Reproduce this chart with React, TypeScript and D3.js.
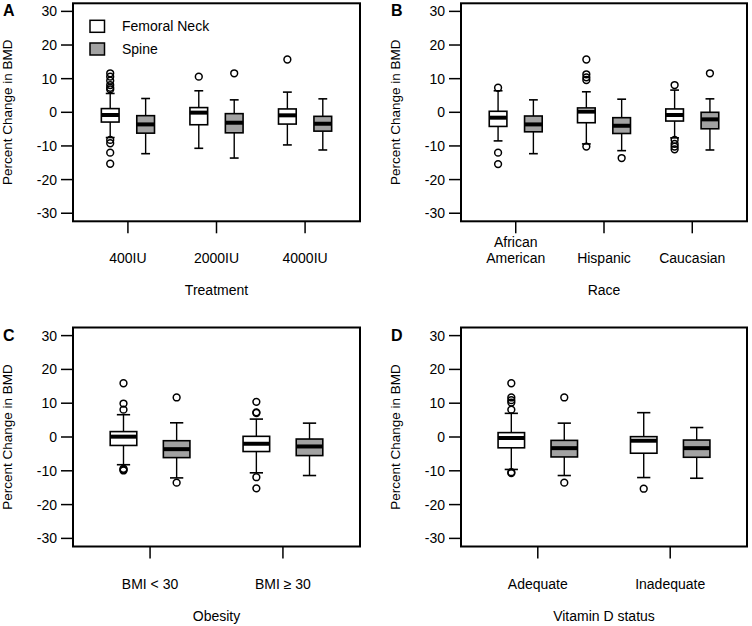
import React from "react";
import * as d3 from "d3";

type Stat = [number, number, number, number, number];

// ---- Data ----
const seriesNames = ["Femoral Neck", "Spine"];
const yTicks = [-30, -20, -10, 0, 10, 20, 30];

const treatmentCats = ["400IU", "2000IU", "4000IU"];
const treatmentFN: Stat[] = [
  [-7.5, -2.9, -0.8, 1.1, 5.6],
  [-10.7, -3.7, -0.1, 1.4, 6.4],
  [-9.7, -3.5, -0.9, 1.0, 6.0],
];
const treatmentFNOut: number[][] = [
  [11.6, 10.6, 9.4, 8.1, 7.3, 6.8, -8.2, -9.2, -12.0, -15.3],
  [10.6],
  [15.7],
];
const treatmentSp: Stat[] = [
  [-12.3, -6.2, -3.6, -1.0, 4.1],
  [-13.6, -6.1, -3.1, -0.4, 3.7],
  [-11.2, -5.6, -3.4, -1.2, 4.0],
];
const treatmentSpOut: number[][] = [[], [11.6], []];

const raceCats = ["African\nAmerican", "Hispanic", "Caucasian"];
const raceFN: Stat[] = [
  [-8.5, -4.2, -1.6, 0.3, 6.4],
  [-9.4, -3.1, 0.2, 1.3, 6.1],
  [-7.6, -2.6, -0.8, 1.0, 6.6],
];
const raceFNOut: number[][] = [
  [7.3, -12.0, -15.4],
  [15.7, 11.3, 10.4, 9.6, -10.2],
  [8.1, -8.2, -9.4, -10.2, -11.0],
];
const raceSp: Stat[] = [
  [-12.3, -5.8, -3.6, -1.1, 3.7],
  [-11.4, -6.3, -4.0, -1.6, 3.9],
  [-11.2, -4.9, -2.1, 0.0, 4.0],
];
const raceSpOut: number[][] = [[], [-13.6], [11.6]];

const obesityCats = ["BMI < 30", "BMI \u2265 30"];
const obesityFN: Stat[] = [
  [-8.2, -2.5, 0.1, 1.6, 6.6],
  [-10.6, -4.3, -2.0, 0.2, 5.3],
];
const obesityFNOut: number[][] = [
  [15.9, 9.9, 8.1, -9.4, -9.7, -9.9],
  [10.4, 7.3, 7.1, -11.9, -15.2],
];
const obesitySp: Stat[] = [
  [-12.1, -6.1, -3.6, -1.1, 4.2],
  [-11.4, -5.5, -2.8, -0.6, 4.1],
];
const obesitySpOut: number[][] = [[11.7, -13.5], []];

const vitdCats = ["Adequate", "Inadequate"];
const vitdFN: Stat[] = [
  [-9.6, -3.2, -0.3, 1.3, 7.0],
  [-12.0, -4.8, -1.1, 0.1, 7.2],
];
const vitdFNOut: number[][] = [
  [15.9, 11.7, 10.9, 10.2, 8.1, -10.4, -10.7],
  [-15.3],
];
const vitdSp: Stat[] = [
  [-11.4, -5.9, -3.3, -1.0, 4.1],
  [-12.2, -6.0, -3.3, -0.9, 2.8],
];
const vitdSpOut: number[][] = [[11.7, -13.5], []];

const FONT = "Liberation Sans, Arial, Helvetica, sans-serif";
const GREY = "#a2a2a2";

interface PanelProps {
  letter: string;
  left: number;
  right: number;
  top: number;
  bottom: number;
  cats: string[];
  fn: Stat[];
  fnOut: number[][];
  sp: Stat[];
  spOut: number[][];
  xTitle: string;
  legend?: boolean;
}

function BoxMark({ x, w, s, out, y, fill }: { x: number; w: number; s: Stat; out: number[]; y: d3.ScaleLinear<number, number>; fill: string }) {
  const [lo, q1, med, q3, hi] = s;
  const half = w / 2;
  const cap = w / 4;
  return (
    <g>
      <line x1={x} x2={x} y1={y(q3)} y2={y(hi)} stroke="#000" strokeWidth={1.4} />
      <line x1={x} x2={x} y1={y(q1)} y2={y(lo)} stroke="#000" strokeWidth={1.4} />
      <line x1={x - cap} x2={x + cap} y1={y(hi)} y2={y(hi)} stroke="#000" strokeWidth={1.6} />
      <line x1={x - cap} x2={x + cap} y1={y(lo)} y2={y(lo)} stroke="#000" strokeWidth={1.6} />
      <rect x={x - half} y={y(q3)} width={w} height={y(q1) - y(q3)} fill={fill} stroke="#000" strokeWidth={1.6} />
      <line x1={x - half} x2={x + half} y1={y(med)} y2={y(med)} stroke="#000" strokeWidth={4} />
      {out.map((o, i) => (
        <circle key={i} cx={x} cy={y(o)} r={3.4} fill="none" stroke="#000" strokeWidth={1.5} />
      ))}
    </g>
  );
}

function Panel(p: PanelProps) {
  const n = p.cats.length;
  const pad = n * 0.04;
  const x = d3.scaleLinear().domain([0.5 - pad, n + 0.5 + pad]).range([p.left, p.right]);
  const y = d3.scaleLinear().domain([-32.4, 32.4]).range([p.bottom, p.top]);
  const unit = x(1) - x(0);
  const bw = 0.2 * unit;
  const off = 0.2 * unit;
  const centers = d3.range(1, n + 1);
  return (
    <g fontFamily={FONT}>
      <text x={p.left - 70} y={p.top + 13} fontSize={16} fontWeight="bold">{p.letter}</text>
      {/* y axis */}
      {yTicks.map((t) => (
        <g key={t}>
          <line x1={p.left - 12} x2={p.left} y1={y(t)} y2={y(t)} stroke="#000" strokeWidth={1.5} />
          <text x={p.left - 16} y={y(t)} dy="0.36em" textAnchor="end" fontSize={14}>{t}</text>
        </g>
      ))}
      <text
        transform={`translate(${p.left - 66},${(p.top + p.bottom) / 2}) rotate(-90)`}
        textAnchor="middle"
        dy="0.36em"
        fontSize={13.5}
      >
        Percent Change in BMD
      </text>
      {/* x axis */}
      {centers.map((c, i) => {
        const lines = p.cats[i].split("\n");
        const cy = p.bottom + 37;
        return (
          <g key={c}>
            <line x1={x(c)} x2={x(c)} y1={p.bottom} y2={p.bottom + 12} stroke="#000" strokeWidth={1.5} />
            {lines.map((ln, j) => (
              <text key={j} x={x(c)} y={cy - (lines.length - 1 - j) * 16.5} dy="0.36em" textAnchor="middle" fontSize={14}>
                {ln}
              </text>
            ))}
          </g>
        );
      })}
      <text x={(p.left + p.right) / 2} y={p.bottom + 69} dy="0.36em" textAnchor="middle" fontSize={14}>
        {p.xTitle}
      </text>
      {/* boxes */}
      {centers.map((c, i) => (
        <g key={"b" + c}>
          <BoxMark x={x(c) - off} w={bw} s={p.fn[i]} out={p.fnOut[i]} y={y} fill="#fff" />
          <BoxMark x={x(c) + off} w={bw} s={p.sp[i]} out={p.spOut[i]} y={y} fill={GREY} />
        </g>
      ))}
      {/* frame */}
      <rect x={p.left} y={p.top} width={p.right - p.left} height={p.bottom - p.top} fill="none" stroke="#000" strokeWidth={2} />
      {p.legend && (
        <g>
          {seriesNames.map((s, i) => (
            <g key={s}>
              <rect x={p.left + 17} y={p.top + 17 + i * 22.7} width={14.5} height={12} fill={i === 0 ? "#fff" : GREY} stroke="#000" strokeWidth={1.5} />
              <text x={p.left + 49} y={p.top + 23 + i * 22.7} dy="0.36em" fontSize={14}>{s}</text>
            </g>
          ))}
        </g>
      )}
    </g>
  );
}

export default function App() {
  const topT = 3.3, topB = 221.3;
  const botT = 327.5, botB = 546.5;
  const lA = 73, rA = 360, lB = 461, rB = 747;
  return (
    <svg width={752} height={626} style={{ position: "absolute", left: 0, top: 0, background: "#fff" }}>
      <rect width={752} height={626} fill="#fff" />
      <Panel letter="A" left={lA} right={rA} top={topT} bottom={topB} cats={treatmentCats} fn={treatmentFN} fnOut={treatmentFNOut} sp={treatmentSp} spOut={treatmentSpOut} xTitle="Treatment" legend />
      <Panel letter="B" left={lB} right={rB} top={topT} bottom={topB} cats={raceCats} fn={raceFN} fnOut={raceFNOut} sp={raceSp} spOut={raceSpOut} xTitle="Race" />
      <Panel letter="C" left={lA} right={rA} top={botT} bottom={botB} cats={obesityCats} fn={obesityFN} fnOut={obesityFNOut} sp={obesitySp} spOut={obesitySpOut} xTitle="Obesity" />
      <Panel letter="D" left={lB} right={rB} top={botT} bottom={botB} cats={vitdCats} fn={vitdFN} fnOut={vitdFNOut} sp={vitdSp} spOut={vitdSpOut} xTitle="Vitamin D status" />
    </svg>
  );
}
